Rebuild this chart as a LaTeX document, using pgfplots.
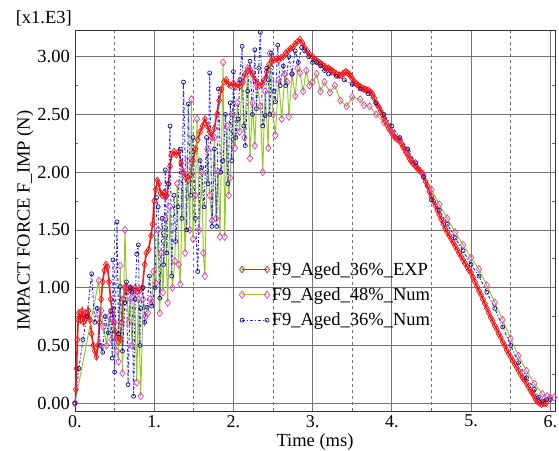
\documentclass[border=0pt]{standalone}
\usepackage{pgfplots}
\pgfplotsset{compat=1.18}
\usepackage{fontspec}
\setmainfont{Liberation Serif}
\definecolor{expred}{RGB}{255,20,20}
\definecolor{numgreen}{RGB}{150,200,40}
\definecolor{numpink}{RGB}{230,60,190}
\definecolor{numblue}{RGB}{40,40,255}
\definecolor{numnavy}{RGB}{20,20,130}
\begin{document}
\begin{tikzpicture}
\useasboundingbox (-75pt,-39pt) rectangle (484pt,411pt);
\begin{axis}[
  name=ax, at={(0,0)}, anchor=south west,
  scale only axis, width=480pt, height=381pt,
  font=\rmfamily\fontsize{18.5}{22}\selectfont,
  xmin=0, xmax=6.06, ymin=-0.068, ymax=3.231,
  xtick={0,1,2,3,4,5,6}, xticklabels={0.,1.,2.,3.,4.,5.,6.},
  ytick={0,0.5,1,1.5,2,2.5,3}, yticklabels={0.00,0.50,1.00,1.50,2.00,2.50,3.00},
  minor x tick num=1, minor y tick num=1,
  xmajorgrids, ymajorgrids, xminorgrids, yminorgrids=false,
  major grid style={black!55, line width=0.8pt},
  minor grid style={black!55, dashed, line width=0.8pt},
  tick align=inside, tick pos=both,
  major tick length=0pt, minor tick length=3pt,
  tick style={black!60, line width=0.7pt},
  axis line style={black!80, line width=0.8pt},
  xticklabel style={anchor=north, inner sep=0pt, yshift=-4pt, font=\rmfamily\fontsize{18}{20}\selectfont},
  yticklabel style={anchor=east, inner sep=0pt, xshift=-5pt, font=\rmfamily\fontsize{18.5}{22}\selectfont},
  xlabel={Time (ms)},
  xlabel style={at={(axis description cs:0.5,0)}, anchor=base, yshift=-35pt},
  ylabel={IMPACT FORCE F\_IMP (N)},
  ylabel style={at={(axis description cs:-0.104,0.5)}, anchor=center},
  legend style={at={(rel axis cs:0.342,0.396)}, anchor=north west, draw=none, fill=none,
    font=\rmfamily\fontsize{18.5}{22}\selectfont, row sep=7pt, inner sep=0pt},
  legend cell align=left,
  legend image code/.code={\draw[#1] plot coordinates {(0pt,0pt) (25pt,0pt)};},
]
\addplot[expred, line width=1.6pt, mark=diamond, mark size=3.3pt, mark options={solid, line width=0.7pt}] coordinates {
(0,0) (0.01,0.12) (0.02,0.3) (0.03,0.55) (0.04,0.72) (0.05,0.78) (0.07,0.72) (0.09,0.8) (0.11,0.7) (0.13,0.78) (0.15,0.74) (0.17,0.8) (0.19,0.72) (0.21,0.6) (0.23,0.5) (0.25,0.45) (0.27,0.4) (0.29,0.5) (0.31,0.7) (0.33,0.9) (0.35,1.05) (0.37,1.15) (0.39,1.2) (0.41,1.18) (0.43,1.05) (0.45,0.9) (0.47,0.8) (0.49,0.7) (0.51,0.62) (0.53,0.58) (0.55,0.53) (0.57,0.55) (0.59,0.7) (0.61,0.9) (0.63,1.0) (0.65,1.0) (0.67,0.97) (0.7,1.0) (0.73,0.98) (0.76,1.0) (0.79,0.97) (0.82,0.98) (0.85,1.0) (0.88,1.2) (0.9,1.3) (0.93,1.33) (0.96,1.45) (0.98,1.55) (1.0,1.75) (1.02,1.85) (1.04,1.93) (1.06,1.9) (1.08,1.82) (1.1,1.8) (1.12,1.82) (1.14,1.78) (1.16,1.8) (1.18,1.9) (1.2,2.05) (1.22,2.15) (1.25,2.18) (1.28,2.15) (1.31,2.18) (1.34,2.08) (1.37,2.0) (1.4,1.95) (1.43,1.93) (1.46,1.98) (1.49,2.1) (1.52,2.2) (1.55,2.28) (1.58,2.35) (1.61,2.4) (1.64,2.46) (1.67,2.4) (1.7,2.35) (1.73,2.3) (1.76,2.38) (1.79,2.5) (1.82,2.62) (1.85,2.72) (1.88,2.78) (1.91,2.8) (1.94,2.76) (1.97,2.75) (2.0,2.77) (2.03,2.74) (2.06,2.76) (2.09,2.75) (2.12,2.78) (2.15,2.85) (2.18,2.88) (2.21,2.89) (2.24,2.85) (2.27,2.8) (2.3,2.77) (2.33,2.75) (2.36,2.76) (2.39,2.8) (2.42,2.87) (2.45,2.93) (2.48,2.96) (2.51,2.97) (2.54,2.98) (2.57,2.97) (2.6,2.99) (2.63,3.0) (2.66,3.03) (2.69,3.05) (2.72,3.07) (2.75,3.08) (2.78,3.11) (2.81,3.13) (2.84,3.15) (2.87,3.12) (2.9,3.08) (2.93,3.05) (2.96,3.02) (3.0,3.0) (3.02,2.98) (3.04,2.97) (3.06,2.96) (3.08,2.95) (3.1,2.94) (3.12,2.93) (3.14,2.92) (3.16,2.91) (3.18,2.9) (3.2,2.9) (3.22,2.89) (3.24,2.88) (3.26,2.87) (3.28,2.86) (3.3,2.85) (3.32,2.84) (3.34,2.84) (3.36,2.84) (3.38,2.85) (3.4,2.86) (3.42,2.87) (3.44,2.86) (3.46,2.85) (3.48,2.83) (3.5,2.81) (3.52,2.79) (3.54,2.77) (3.56,2.76) (3.58,2.75) (3.6,2.74) (3.62,2.73) (3.64,2.72) (3.66,2.72) (3.68,2.71) (3.7,2.71) (3.72,2.70) (3.74,2.69) (3.76,2.67) (3.78,2.64) (3.8,2.6) (3.82,2.58) (3.84,2.56) (3.86,2.53) (3.88,2.5) (3.9,2.47) (3.92,2.44) (3.94,2.41) (3.96,2.38) (3.98,2.36) (4.0,2.34) (4.02,2.32) (4.04,2.3) (4.06,2.29) (4.08,2.28) (4.1,2.27) (4.12,2.25) (4.14,2.22) (4.16,2.2) (4.18,2.17) (4.2,2.15) (4.22,2.12) (4.24,2.1) (4.26,2.08) (4.28,2.07) (4.3,2.05) (4.32,2.04) (4.34,2.02) (4.36,2.01) (4.38,1.99) (4.4,1.96) (4.425,1.92) (4.45,1.88) (4.475,1.83) (4.5,1.79) (4.525,1.75) (4.55,1.71) (4.575,1.67) (4.6,1.63) (4.625,1.59) (4.65,1.55) (4.675,1.51) (4.7,1.48) (4.725,1.45) (4.75,1.42) (4.775,1.39) (4.8,1.36) (4.825,1.33) (4.85,1.3) (4.875,1.27) (4.9,1.24) (4.925,1.21) (4.95,1.18) (4.975,1.15) (5.0,1.13) (5.025,1.09) (5.05,1.05) (5.075,1.01) (5.1,0.97) (5.125,0.94) (5.15,0.9) (5.175,0.86) (5.2,0.82) (5.225,0.78) (5.25,0.74) (5.275,0.71) (5.3,0.67) (5.325,0.64) (5.35,0.6) (5.375,0.57) (5.4,0.53) (5.425,0.5) (5.45,0.46) (5.475,0.43) (5.5,0.4) (5.525,0.37) (5.55,0.34) (5.575,0.31) (5.6,0.28) (5.625,0.25) (5.65,0.22) (5.675,0.2) (5.7,0.17) (5.725,0.14) (5.75,0.11) (5.77,0.09) (5.79,0.07) (5.81,0.04) (5.83,0.02) (5.85,0.01) (5.87,0.0) (5.89,-0.01) (5.91,0.0) (5.93,0.0) (5.95,0.0)
};
\addlegendentry{F9\_Aged\_36\%\_EXP}
\addplot[numgreen, line width=1pt, mark=diamond, mark size=3.6pt, mark options={solid, numpink, line width=0.7pt}] coordinates {
(0,0) (0.3,1.06) (0.33,0.8) (0.36,0.66) (0.4,0.5) (0.43,0.75) (0.46,0.55) (0.5,0.7) (0.53,0.45) (0.55,0.36) (0.57,1.19) (0.6,0.26) (0.63,1.5) (0.65,1.01) (0.68,0.7) (0.7,0.9) (0.72,0.5) (0.75,0.95) (0.78,0.18) (0.8,0.9) (0.83,0.06) (0.86,0.9) (0.89,0.75) (0.92,0.78) (0.95,0.9) (0.97,0.87) (0.99,1.14) (1.02,1.04) (1.05,1.5) (1.07,0.78) (1.09,1.3) (1.11,0.96) (1.14,1.6) (1.17,0.87) (1.2,1.7) (1.23,1.0) (1.26,1.23) (1.29,1.9) (1.31,1.2) (1.33,1.03) (1.36,2.0) (1.39,1.3) (1.42,2.1) (1.45,1.5) (1.47,2.63) (1.49,1.42) (1.52,1.8) (1.54,2.46) (1.57,1.5) (1.6,2.0) (1.62,1.3) (1.64,1.1) (1.67,2.2) (1.7,1.8) (1.73,1.58) (1.76,2.3) (1.78,1.6) (1.81,2.0) (1.83,1.44) (1.87,2.95) (1.89,1.44) (1.92,2.4) (1.94,1.8) (1.96,1.95) (1.99,2.5) (2.02,2.21) (2.05,2.6) (2.08,2.35) (2.11,2.8) (2.14,2.3) (2.18,2.9) (2.21,2.12) (2.24,2.6) (2.27,2.23) (2.3,2.75) (2.34,2.57) (2.37,2.0) (2.4,2.7) (2.44,2.21) (2.46,3.03) (2.5,2.5) (2.53,2.32) (2.57,2.8) (2.61,2.46) (2.65,2.85) (2.68,2.78) (2.7,2.48) (2.74,2.85) (2.78,2.66) (2.81,2.9) (2.84,2.86) (2.88,2.7) (2.92,2.88) (2.96,2.75) (3.0,2.78) (3.05,2.85) (3.1,2.7) (3.15,2.78) (3.22,2.69) (3.28,2.75) (3.35,2.62) (3.43,2.57) (3.5,2.65) (3.6,2.63) (3.65,2.58) (3.72,2.57) (3.8,2.5) (3.9,2.43) (4.0,2.35) (4.1,2.28) (4.2,2.18) (4.3,2.08) (4.4,1.98) (4.5,1.85) (4.6,1.72) (4.7,1.6) (4.8,1.48) (4.9,1.37) (5.0,1.26) (5.1,1.16) (5.2,1.02) (5.3,0.87) (5.4,0.72) (5.5,0.56) (5.6,0.41) (5.7,0.28) (5.8,0.17) (5.9,0.08) (5.96,0.06) (6.0,0.05) (6.05,0.05)
};
\addlegendentry{F9\_Aged\_48\%\_Num}
\addplot[numblue, line width=1pt, dash pattern=on 3pt off 2pt on 1pt off 2pt, mark=o, mark size=2pt, mark options={solid, numnavy, line width=0.7pt}] coordinates {
(0,0) (0.05,0.3) (0.1,0.55) (0.15,0.75) (0.21,1.12) (0.25,0.7) (0.28,0.82) (0.32,0.5) (0.35,0.44) (0.38,0.75) (0.42,0.61) (0.45,0.8) (0.47,0.39) (0.48,1.24) (0.5,0.27) (0.53,1.57) (0.55,0.6) (0.57,1.01) (0.6,0.45) (0.63,0.87) (0.65,1.05) (0.67,0.16) (0.7,1.0) (0.72,0.96) (0.74,0.06) (0.76,0.9) (0.78,1.29) (0.8,1.37) (0.82,0.5) (0.83,0.82) (0.86,1.0) (0.88,0.7) (0.91,0.83) (0.94,1.1) (0.97,0.84) (1.01,1.0) (1.03,1.78) (1.05,1.7) (1.07,0.91) (1.1,1.6) (1.12,1.2) (1.14,2.02) (1.16,1.3) (1.18,1.9) (1.2,2.4) (1.22,1.1) (1.25,1.8) (1.27,1.4) (1.3,1.7) (1.33,2.2) (1.35,1.6) (1.37,2.78) (1.41,1.5) (1.43,2.59) (1.46,1.8) (1.49,2.3) (1.52,1.6) (1.55,1.14) (1.58,2.1) (1.6,2.04) (1.63,1.7) (1.66,2.3) (1.68,1.9) (1.7,2.86) (1.73,1.53) (1.76,2.2) (1.79,1.53) (1.81,2.72) (1.84,2.0) (1.87,2.1) (1.9,2.5) (1.93,1.9) (1.96,2.6) (1.98,2.1) (2.0,2.87) (2.03,2.3) (2.06,2.46) (2.08,2.8) (2.11,3.09) (2.13,2.4) (2.15,2.23) (2.18,2.7) (2.21,2.96) (2.24,2.5) (2.27,3.06) (2.29,2.55) (2.32,2.9) (2.34,3.21) (2.37,2.4) (2.4,2.49) (2.42,2.9) (2.44,2.8) (2.46,2.5) (2.48,3.03) (2.51,2.7) (2.53,2.61) (2.56,3.1) (2.59,2.75) (2.63,2.92) (2.66,2.75) (2.7,3.0) (2.74,2.85) (2.78,3.05) (2.82,2.95) (2.86,3.08) (2.9,3.05) (2.95,3.0) (3.0,2.95) (3.05,2.95) (3.1,2.92) (3.15,2.88) (3.2,2.85) (3.3,2.83) (3.4,2.8) (3.5,2.76) (3.6,2.72) (3.7,2.68) (3.8,2.6) (3.9,2.5) (4.0,2.4) (4.1,2.3) (4.2,2.2) (4.3,2.08) (4.4,1.96) (4.5,1.76) (4.6,1.67) (4.7,1.55) (4.8,1.43) (4.9,1.32) (5.0,1.2) (5.1,1.1) (5.2,0.96) (5.3,0.82) (5.4,0.66) (5.5,0.5) (5.6,0.35) (5.7,0.22) (5.8,0.12) (5.85,0.05) (5.9,0.02) (5.95,0.03) (6.0,0.03)
};
\addlegendentry{F9\_Aged\_36\%\_Num}
\end{axis}
\node[anchor=base east, inner sep=0pt, font=\rmfamily\fontsize{18.5}{22}\selectfont] at ([xshift=-3pt, yshift=6pt]ax.north west) {[x1.E3]};
\end{tikzpicture}
\end{document}
